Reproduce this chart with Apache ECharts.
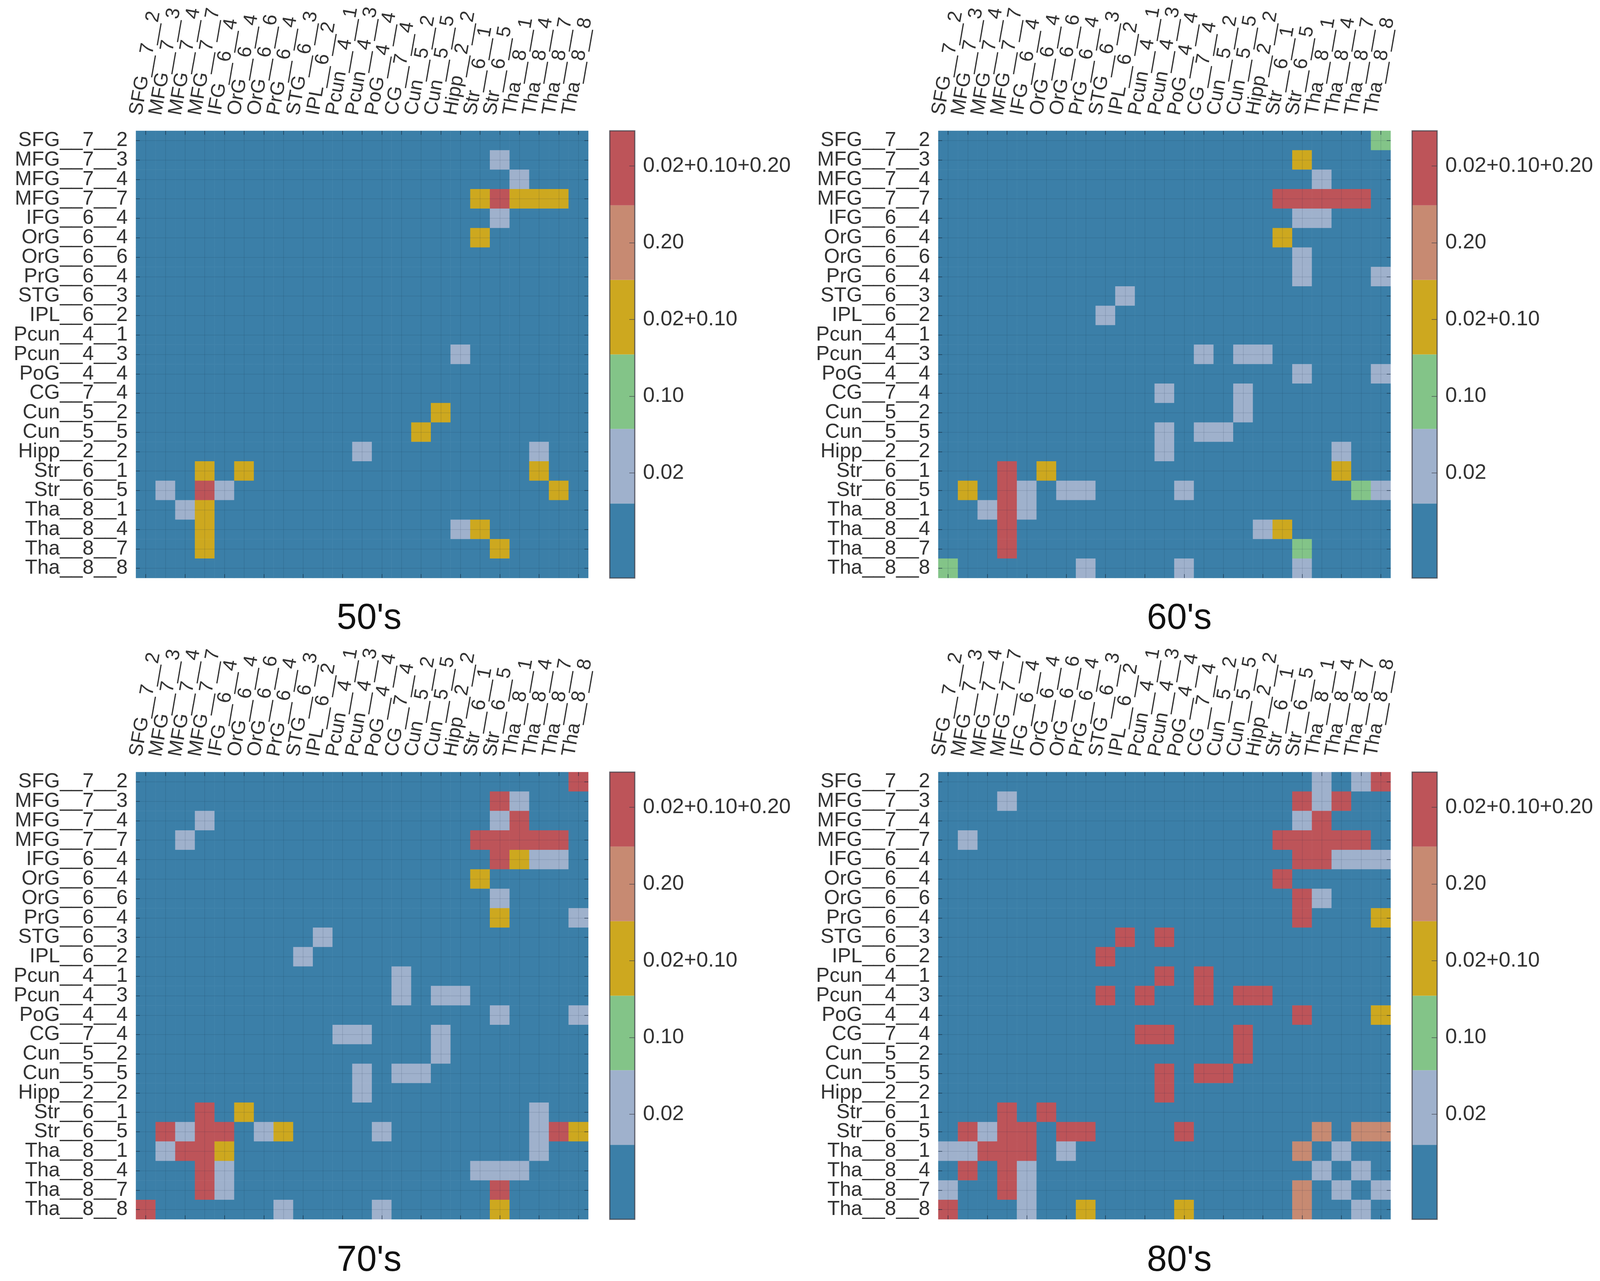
<!DOCTYPE html>
<html>
<head>
<meta charset="utf-8" />
<title>50's - 80's</title>
<script src="https://cdn.jsdelivr.net/npm/echarts@6/dist/echarts.min.js"></script>
<style>
    html, body { margin: 0; padding: 0; background: #fff; }
</style>
</head>
<body>
<div id="main" style="width: 4107px; height: 3280px;"></div>
<script type="text/javascript">
// row/column names, same order on both axes
let regions = ['SFG__7__2', 'MFG__7__3', 'MFG__7__4', 'MFG__7__7', 'IFG__6__4', 'OrG__6__4', 'OrG__6__6', 'PrG__6__4',
    'STG__6__3', 'IPL__6__2', 'Pcun__4__1', 'Pcun__4__3', 'PoG__4__4', 'CG__7__4', 'Cun__5__2', 'Cun__5__5',
    'Hipp__2__2', 'Str__6__1', 'Str__6__5', 'Tha__8__1', 'Tha__8__4', 'Tha__8__7', 'Tha__8__8'];

// colorbar: level 0 (no label) up to level 5
let levelColors = ['#3b7fa8', '#9fb1cc', '#83c488', '#cda81f', '#c78a72', '#bd5459'];
let levelSizes = [1, 1, 1, 1, 1, 1];
let barTicks = [1.41, 2.44, 3.47, 4.50, 5.53];
let barLabels = ['0.02', '0.10', '0.02+0.10', '0.20', '0.02+0.10+0.20'];

let panelNames = ["50's", "60's", "70's", "80's"];

// [row, column, level], every cell not listed is level 0
let cells50 = [
    [1,18,1], [2,19,1],
    [3,17,3], [3,18,5], [3,19,3], [3,20,3], [3,21,3],
    [4,18,1], [5,17,3], [11,16,1], [14,15,3], [15,14,3],
    [16,11,1], [16,20,1],
    [17,3,3], [17,5,3], [17,20,3],
    [18,1,1], [18,3,5], [18,4,1], [18,21,3],
    [19,2,1], [19,3,3],
    [20,3,3], [20,16,1], [20,17,3],
    [21,3,3], [21,18,3]
];
let cells60 = [
    [0,22,2], [1,18,3], [2,19,1],
    [3,17,5], [3,18,5], [3,19,5], [3,20,5], [3,21,5],
    [4,18,1], [4,19,1], [5,17,3], [6,18,1],
    [7,18,1], [7,22,1], [8,9,1], [9,8,1],
    [11,13,1], [11,15,1], [11,16,1],
    [12,18,1], [12,22,1],
    [13,11,1], [13,15,1], [14,15,1],
    [15,11,1], [15,13,1], [15,14,1],
    [16,11,1], [16,20,1],
    [17,3,5], [17,5,3], [17,20,3],
    [18,1,3], [18,3,5], [18,4,1], [18,6,1], [18,7,1], [18,12,1], [18,21,2], [18,22,1],
    [19,2,1], [19,3,5], [19,4,1],
    [20,3,5], [20,16,1], [20,17,3],
    [21,3,5], [21,18,2],
    [22,0,2], [22,7,1], [22,12,1], [22,18,1]
];
let cells70 = [
    [0,22,5], [1,18,5], [1,19,1],
    [2,3,1], [2,18,1], [2,19,5],
    [3,2,1], [3,17,5], [3,18,5], [3,19,5], [3,20,5], [3,21,5],
    [4,18,5], [4,19,3], [4,20,1], [4,21,1],
    [5,17,3], [6,18,1], [7,18,3], [7,22,1],
    [8,9,1], [9,8,1], [10,13,1],
    [11,13,1], [11,15,1], [11,16,1],
    [12,18,1], [12,22,1],
    [13,10,1], [13,11,1], [13,15,1], [14,15,1],
    [15,11,1], [15,13,1], [15,14,1], [16,11,1],
    [17,3,5], [17,5,3], [17,20,1],
    [18,1,5], [18,2,1], [18,3,5], [18,4,5], [18,6,1], [18,7,3], [18,12,1], [18,20,1], [18,21,5], [18,22,3],
    [19,1,1], [19,2,5], [19,3,5], [19,4,3], [19,20,1],
    [20,3,5], [20,4,1], [20,17,1], [20,18,1], [20,19,1],
    [21,3,5], [21,4,1], [21,18,5],
    [22,0,5], [22,7,1], [22,12,1], [22,18,3]
];
let cells80 = [
    [0,19,1], [0,21,1], [0,22,5],
    [1,3,1], [1,18,5], [1,19,1], [1,20,5],
    [2,18,1], [2,19,5],
    [3,1,1], [3,17,5], [3,18,5], [3,19,5], [3,20,5], [3,21,5],
    [4,18,5], [4,19,5], [4,20,1], [4,21,1], [4,22,1],
    [5,17,5], [6,18,5], [6,19,1], [7,18,5], [7,22,3],
    [8,9,5], [8,11,5], [9,8,5],
    [10,11,5], [10,13,5],
    [11,8,5], [11,10,5], [11,13,5], [11,15,5], [11,16,5],
    [12,18,5], [12,22,3],
    [13,10,5], [13,11,5], [13,15,5], [14,15,5],
    [15,11,5], [15,13,5], [15,14,5], [16,11,5],
    [17,3,5], [17,5,5],
    [18,1,5], [18,2,1], [18,3,5], [18,4,5], [18,6,5], [18,7,5], [18,12,5], [18,19,4], [18,21,4], [18,22,4],
    [19,0,1], [19,1,1], [19,2,5], [19,3,5], [19,4,5], [19,6,1], [19,18,4], [19,20,1],
    [20,1,5], [20,3,5], [20,4,1], [20,19,1], [20,21,1],
    [21,0,1], [21,3,5], [21,4,1], [21,18,4], [21,20,1], [21,22,1],
    [22,0,5], [22,4,1], [22,7,3], [22,12,3], [22,18,4], [22,21,1]
];
let panelCells = [cells50, cells60, cells70, cells80];

// page layout in pixels
let panelLeft = [348, 2402, 348, 2402];
let panelTop = [335, 335, 1977, 1977];
let heatW = 1158, heatH = 1145;
let barGap = 213 + 1000, barW = 64;
let titleX = [940, 3014, 940, 3014];
let titleY = [1534, 1534, 3178, 3178];

let textColor = '#333';
let tickColor = 'rgba(20,40,60,0.55)';
let gridLine = 'rgba(20,40,60,0.11)';

let grid = [], xAxis = [], yAxis = [], series = [], title = [];

panelNames.forEach((name, p) => {
    // heatmap
    let g = grid.length;
    grid.push({ left: panelLeft[p], top: panelTop[p], width: heatW, height: heatH });
    let xi = xAxis.length, yi = yAxis.length;
    let tickPart = {
        axisLine: { show: false },
        axisTick: { show: true, inside: true, alignWithLabel: true, length: 10, lineStyle: { color: tickColor, width: 2 } },
        splitLine: { show: false }
    };
    xAxis.push(Object.assign({}, tickPart, {
        gridIndex: g, type: 'category', position: 'top', data: regions, z: 5,
        axisLabel: { interval: 0, rotate: -80, margin: 36, fontSize: 50, color: textColor, fontFamily: 'Liberation Sans', verticalAlign: 'bottom' },
        splitLine: { show: true, alignWithLabel: true, interval: 0, lineStyle: { color: gridLine, width: 2 } }
    }));
    xAxis.push(Object.assign({}, tickPart, {
        gridIndex: g, type: 'category', position: 'bottom', data: regions, z: 5, axisLabel: { show: false }
    }));
    yAxis.push(Object.assign({}, tickPart, {
        gridIndex: g, type: 'category', position: 'left', inverse: true, data: regions, z: 5,
        axisLabel: { interval: 0, margin: 21, fontSize: 52, color: textColor, fontFamily: 'Liberation Sans', padding: [8, 0, 0, 0] },
        splitLine: { show: true, alignWithLabel: true, interval: 0, lineStyle: { color: gridLine, width: 2 } }
    }));
    yAxis.push(Object.assign({}, tickPart, {
        gridIndex: g, type: 'category', position: 'right', inverse: true, data: regions, z: 5, axisLabel: { show: false }
    }));

    let lookup = {};
    panelCells[p].forEach(c => { lookup[c[0] + '_' + c[1]] = c[2]; });
    let data = [];
    regions.forEach((r, row) => {
        regions.forEach((c, col) => {
            let lvl = lookup[row + '_' + col] || 0;
            data.push({ value: [col, row, lvl], itemStyle: { color: levelColors[lvl] } });
        });
    });
    series.push({ type: 'heatmap', xAxisIndex: xi, yAxisIndex: yi, data: data, silent: true, progressive: 0 });

    // colorbar
    let gb = grid.length;
    grid.push({
        left: panelLeft[p] + barGap, top: panelTop[p], width: barW, height: heatH,
        show: true, z: 10, backgroundColor: 'transparent', borderColor: 'rgba(60,60,70,0.75)', borderWidth: 3
    });
    let xb = xAxis.length, yb = yAxis.length;
    xAxis.push({ gridIndex: gb, type: 'category', data: [''], show: false });
    yAxis.push({
        gridIndex: gb, type: 'value', position: 'right', min: 0, max: 6, z: 12,
        splitLine: { show: false },
        axisLine: { show: false },
        axisTick: { show: true, inside: true, length: 14, customValues: barTicks, lineStyle: { color: 'rgba(60,60,70,0.6)', width: 2 } },
        axisLabel: {
            margin: 21, fontSize: 54, color: textColor, fontFamily: 'Liberation Sans', padding: [8, 0, 0, 0],
            customValues: barTicks,
            formatter: v => barLabels[barTicks.indexOf(v)]
        }
    });
    levelSizes.forEach((size, i) => {
        series.push({
            type: 'bar', stack: 'bar' + p, xAxisIndex: xb, yAxisIndex: yb, barWidth: '100%', silent: true,
            itemStyle: { color: levelColors[i] }, data: [size]
        });
    });

    title.push({
        text: name, left: titleX[p], top: titleY[p], textAlign: 'center',
        textStyle: { fontSize: 92, fontWeight: 'normal', color: '#111', fontFamily: 'Liberation Sans' }
    });
});

let myChart = echarts.init(document.getElementById('main'));
myChart.setOption({
    backgroundColor: '#fff',
    animation: false,
    title: title,
    grid: grid,
    xAxis: xAxis,
    yAxis: yAxis,
    series: series
});
</script>
</body>
</html>
